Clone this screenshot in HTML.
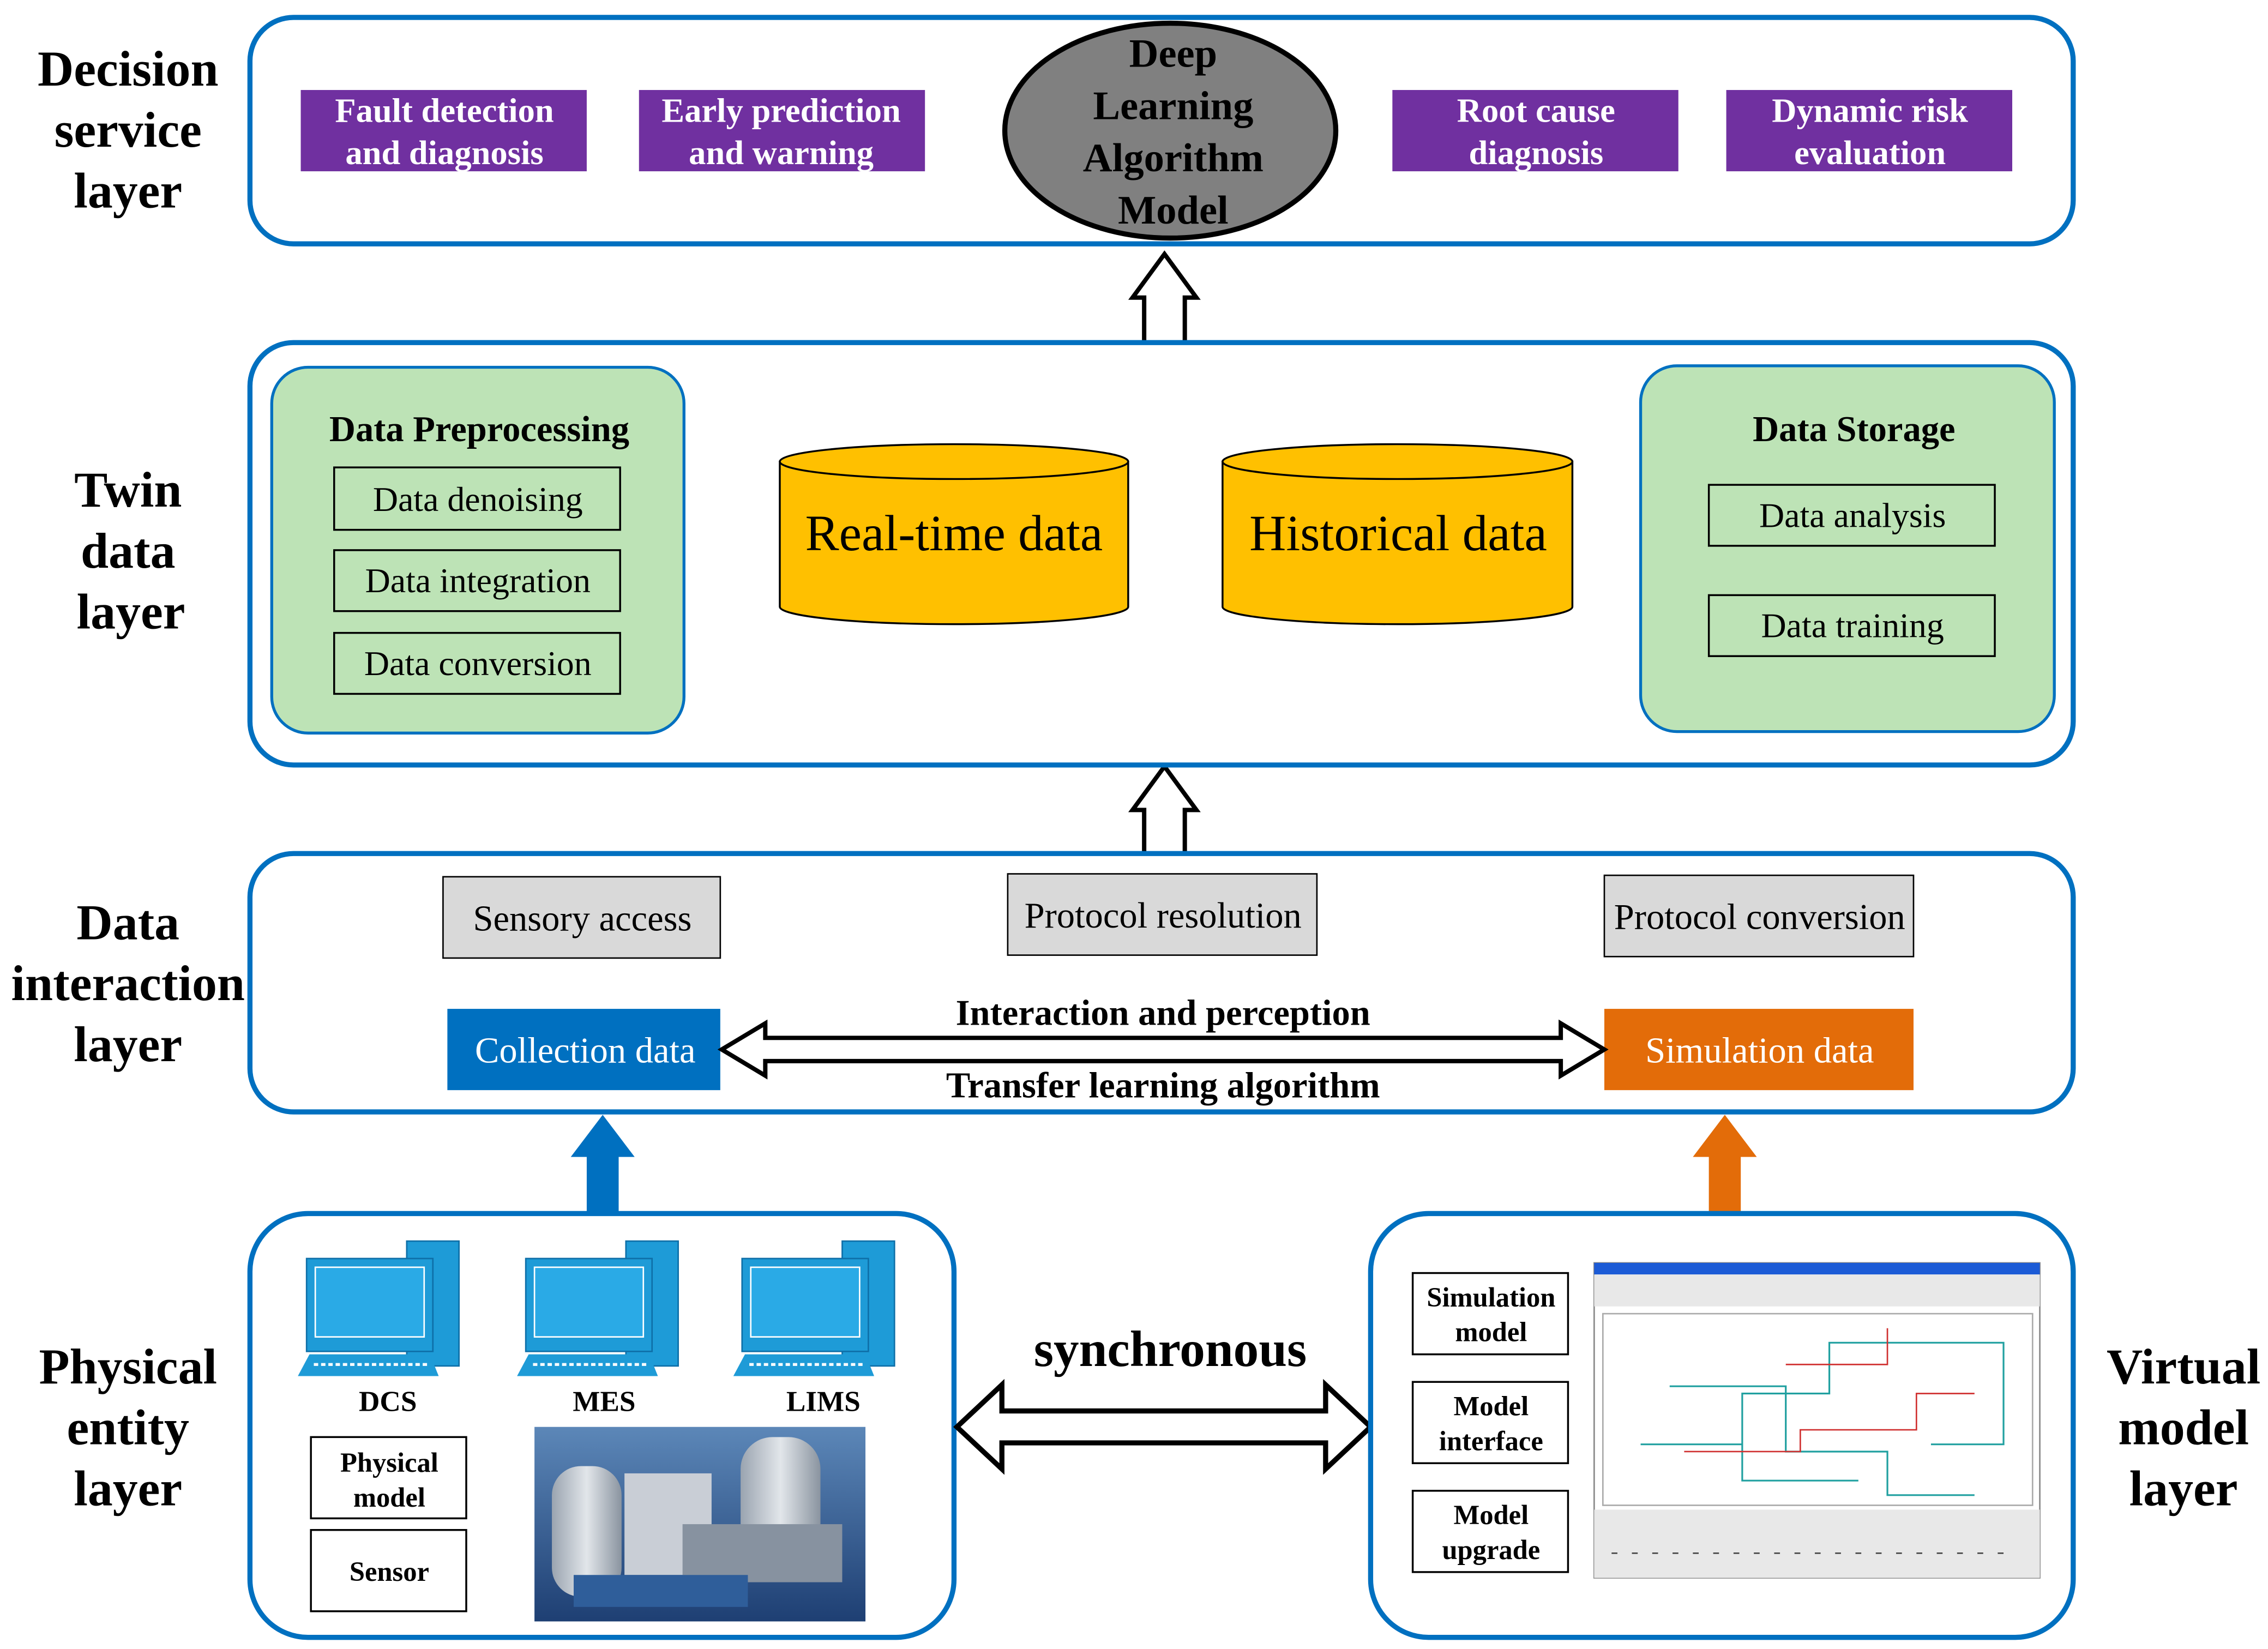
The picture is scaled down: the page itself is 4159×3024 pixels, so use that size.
<!DOCTYPE html>
<html><head><meta charset="utf-8"><style>
html,body{margin:0;padding:0;background:#fff;}
svg{display:block;}
text{font-family:"Liberation Serif",serif;}
</style></head><body>
<svg width="4159" height="3024" viewBox="0 0 1562 1136" xmlns="http://www.w3.org/2000/svg">
<rect width="1562" height="1136" fill="#fff"/>
<g font-weight="bold" font-size="34.5" text-anchor="middle" fill="#000">
<text x="88" y="59">Decision</text><text x="88" y="101">service</text><text x="88" y="143">layer</text>
<text x="88" y="349">Twin</text><text x="88" y="391">data</text><text x="90" y="433">layer</text>
<text x="88" y="647">Data</text><text x="88" y="689">interaction</text><text x="88" y="731">layer</text>
<text x="88" y="953">Physical</text><text x="88" y="995">entity</text><text x="88" y="1037">layer</text>
<text x="1504" y="953">Virtual</text><text x="1504" y="995">model</text><text x="1504" y="1037">layer</text>
</g>
<rect x="172" y="12" width="1256" height="156" rx="30" fill="#fff" stroke="#0070C0" stroke-width="3.5"/>
<g fill="#7030A0">
<rect x="207" y="62" width="197" height="56"/><rect x="440" y="62" width="197" height="56"/>
<rect x="959" y="62" width="197" height="56"/><rect x="1189" y="62" width="197" height="56"/>
</g>
<g fill="#fff" font-weight="bold" font-size="23.5" text-anchor="middle">
<text x="306" y="84">Fault detection</text><text x="306" y="113">and diagnosis</text>
<text x="538" y="84">Early prediction</text><text x="538" y="113">and warning</text>
<text x="1058" y="84">Root cause</text><text x="1058" y="113">diagnosis</text>
<text x="1288" y="84">Dynamic risk</text><text x="1288" y="113">evaluation</text>
</g>
<ellipse cx="806" cy="90" rx="114" ry="74" fill="#808080" stroke="#000" stroke-width="3.5"/>
<g font-weight="bold" font-size="28" text-anchor="middle" fill="#000">
<text x="808" y="46">Deep</text><text x="808" y="82">Learning</text><text x="808" y="118">Algorithm</text><text x="808" y="154">Model</text>
</g>
<polygon points="788,237 816,237 816,205 824,205 802,175 780,205 788,205" fill="#fff" stroke="#000" stroke-width="3"/>
<polygon points="788,590 816,590 816,558 824,558 802,528 780,558 788,558" fill="#fff" stroke="#000" stroke-width="3"/>
<rect x="172" y="236" width="1256" height="291" rx="30" fill="#fff" stroke="#0070C0" stroke-width="3.5"/>
<rect x="187" y="253" width="284" height="252" rx="25" fill="#BDE3B6" stroke="#0070C0" stroke-width="2"/>
<rect x="1130" y="252" width="285" height="252" rx="25" fill="#BDE3B6" stroke="#0070C0" stroke-width="2"/>
<g fill="none" stroke="#000" stroke-width="1.3">
<rect x="230" y="322" width="197" height="43"/><rect x="230" y="379" width="197" height="42"/><rect x="230" y="436" width="197" height="42"/>
<rect x="1177" y="334" width="197" height="42"/><rect x="1177" y="410" width="197" height="42"/>
</g>
<g font-size="24" text-anchor="middle" fill="#000">
<text x="330" y="304" font-weight="bold" font-size="25">Data Preprocessing</text>
<text x="329" y="352">Data denoising</text><text x="329" y="408">Data integration</text><text x="329" y="465">Data conversion</text>
<text x="1277" y="304" font-weight="bold" font-size="25">Data Storage</text>
<text x="1276" y="363">Data analysis</text><text x="1276" y="439">Data training</text>
</g>
<g fill="#FFC000" stroke="#000" stroke-width="1.3">
<path d="M537,318 L537,418 A120,12 0 0 0 777,418 L777,318 Z"/><ellipse cx="657" cy="318" rx="120" ry="12"/>
<path d="M842,318 L842,418 A120.5,12 0 0 0 1083,418 L1083,318 Z"/><ellipse cx="962.5" cy="318" rx="120.5" ry="12"/>
</g>
<g font-size="35" text-anchor="middle" fill="#000">
<text x="657" y="379">Real-time data</text><text x="963" y="379">Historical data</text>
</g>
<rect x="172" y="588" width="1256" height="178" rx="30" fill="#fff" stroke="#0070C0" stroke-width="3.5"/>
<g fill="#D9D9D9" stroke="#000" stroke-width="1">
<rect x="305" y="604" width="191" height="56"/><rect x="694" y="602" width="213" height="56"/><rect x="1105" y="603" width="213" height="56"/>
</g>
<rect x="308" y="695" width="188" height="56" fill="#0070C0"/>
<rect x="1105" y="695" width="213" height="56" fill="#E36C09"/>
<g font-size="25" text-anchor="middle">
<text x="401" y="641" fill="#000">Sensory access</text>
<text x="801" y="639" fill="#000">Protocol resolution</text>
<text x="1212" y="640" fill="#000">Protocol conversion</text>
<text x="403" y="732" fill="#fff">Collection data</text>
<text x="1212" y="732" fill="#fff">Simulation data</text>
</g>
<polygon points="497,723 527,705 527,715 1075,715 1075,705 1105,723 1075,741 1075,731 527,731 527,741" fill="#fff" stroke="#000" stroke-width="3"/>
<g font-size="25" font-weight="bold" text-anchor="middle" fill="#000">
<text x="801" y="706">Interaction and perception</text><text x="801" y="756">Transfer learning algorithm</text>
</g>
<polygon points="404,836 426,836 426,797 437,797 415,768 393,797 404,797" fill="#0070C0"/>
<polygon points="1177,836 1199,836 1199,797 1210,797 1188,768 1166,797 1177,797" fill="#E36C09"/>
<rect x="172" y="836" width="485" height="292" rx="40" fill="#fff" stroke="#0070C0" stroke-width="3.5"/>
<g id="pc">
<rect x="280" y="855" width="36" height="86" fill="#1E9BD7" stroke="#0E6FA8"/>
<rect x="211" y="867" width="87" height="64" fill="#1E9BD7" stroke="#0E6FA8"/>
<rect x="217" y="873" width="75" height="48" fill="#2AAAE6" stroke="#fff" stroke-width="1"/>
<polygon points="213,933 296,933 302,948 205,948" fill="#1E9BD7"/>
<line x1="216" y1="940" x2="296" y2="940" stroke="#fff" stroke-width="2" stroke-dasharray="3,2"/>
</g>
<use href="#pc" x="151"/><use href="#pc" x="300"/>
<g font-size="20" font-weight="bold" text-anchor="middle" fill="#000">
<text x="267" y="972">DCS</text><text x="416" y="972">MES</text><text x="567" y="972">LIMS</text>
</g>
<g fill="#fff" stroke="#000" stroke-width="1.3">
<rect x="214" y="990" width="107" height="56"/><rect x="214" y="1054" width="107" height="56"/>
</g>
<g font-size="19" font-weight="bold" text-anchor="middle" fill="#000">
<text x="268" y="1014">Physical</text><text x="268" y="1038">model</text><text x="268" y="1089">Sensor</text>
</g>
<defs><linearGradient id="eq" x1="0" y1="0" x2="0" y2="1"><stop offset="0" stop-color="#5C87B8"/><stop offset="1" stop-color="#1E3F73"/></linearGradient>
<linearGradient id="tk" x1="0" y1="0" x2="1" y2="0"><stop offset="0" stop-color="#9AA4B0"/><stop offset="0.5" stop-color="#E2E6EA"/><stop offset="1" stop-color="#8A94A0"/></linearGradient></defs>
<rect x="368" y="983" width="228" height="134" fill="url(#eq)"/>
<rect x="380" y="1010" width="48" height="90" rx="20" fill="url(#tk)"/>
<rect x="430" y="1015" width="60" height="70" fill="#C9CED6"/>
<rect x="510" y="990" width="55" height="95" rx="22" fill="url(#tk)"/>
<rect x="470" y="1050" width="110" height="40" fill="#8792A0"/>
<rect x="395" y="1085" width="120" height="22" fill="#2F5E9A"/>
<text x="806" y="941" font-size="35" font-weight="bold" text-anchor="middle" fill="#000">synchronous</text>
<polygon points="659,983 690,954 690,972 913,972 913,954 944,983 913,1012 913,994 690,994 690,1012" fill="#fff" stroke="#000" stroke-width="3.5"/>
<rect x="944" y="836" width="484" height="292" rx="40" fill="#fff" stroke="#0070C0" stroke-width="3.5"/>
<g fill="#fff" stroke="#000" stroke-width="1.3">
<rect x="973" y="877" width="107" height="56"/><rect x="973" y="952" width="107" height="56"/><rect x="973" y="1027" width="107" height="56"/>
</g>
<g font-size="19" font-weight="bold" text-anchor="middle" fill="#000">
<text x="1027" y="900">Simulation</text><text x="1027" y="924">model</text>
<text x="1027" y="975">Model</text><text x="1027" y="999">interface</text>
<text x="1027" y="1050">Model</text><text x="1027" y="1074">upgrade</text>
</g>
<rect x="1098" y="870" width="307" height="217" fill="#fff" stroke="#888"/>
<rect x="1098" y="870" width="307" height="8" fill="#1C5BD6"/>
<rect x="1098" y="878" width="307" height="22" fill="#E8E8E8"/>
<rect x="1104" y="905" width="296" height="132" fill="#fff" stroke="#aaa"/>
<g fill="none" stroke="#20A0A0" stroke-width="1.2">
<path d="M1130,995 H1200 V960 H1260 V925 H1380 V995 H1330"/>
<path d="M1150,955 H1230 V1000 H1300 V1030 H1360"/>
<path d="M1200,995 V1020 H1280"/>
</g>
<g fill="none" stroke="#D03030" stroke-width="1">
<path d="M1160,1000 H1240 V985 H1320 V960 H1360"/><path d="M1230,940 H1300 V915"/>
</g>
<rect x="1098" y="1040" width="307" height="47" fill="#E8E8E8"/>
<g stroke="#444" stroke-width="1"><line x1="1110" y1="1070" x2="1390" y2="1070" stroke-dasharray="4,10"/></g>
</svg>
</body></html>
